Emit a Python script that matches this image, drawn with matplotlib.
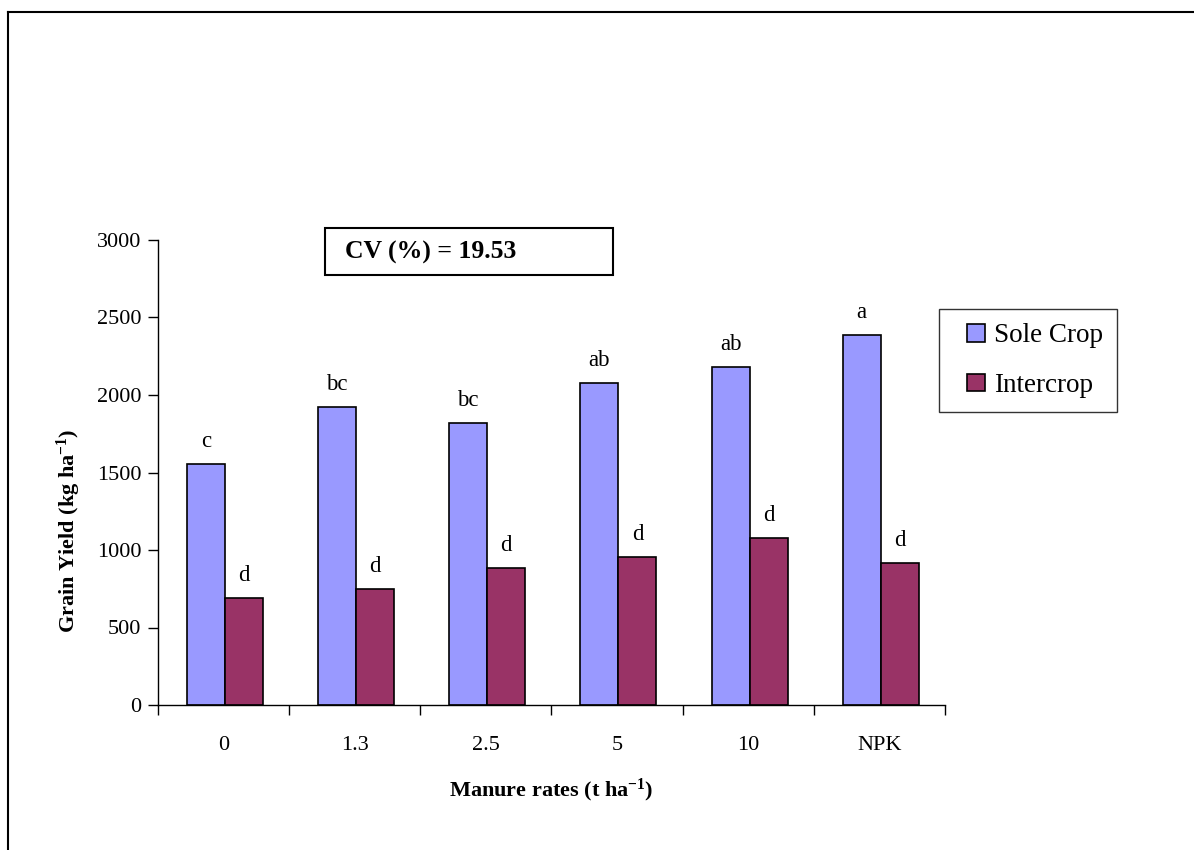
import matplotlib
matplotlib.use("Agg")
import matplotlib.pyplot as plt
from matplotlib.lines import Line2D
from matplotlib.patches import Rectangle
from matplotlib.legend_handler import HandlerPatch
import numpy as np

categories = ["0", "1.3", "2.5", "5", "10", "NPK"]
sole_crop = [1555, 1925, 1820, 2075, 2180, 2385]
intercrop = [690, 748, 882, 955, 1075, 918]
sole_letters = ["c", "bc", "bc", "ab", "ab", "a"]
inter_letters = ["d", "d", "d", "d", "d", "d"]
series_names = ["Sole Crop", "Intercrop"]
cv_text = "CV (%) = 19.53"

plt.rcParams['font.family'] = ['Liberation Serif', 'DejaVu Serif']
plt.rcParams['mathtext.fontset'] = 'custom'
plt.rcParams['mathtext.rm'] = 'Liberation Serif'
plt.rcParams['mathtext.it'] = 'Liberation Serif:italic'
plt.rcParams['mathtext.bf'] = 'Liberation Serif:bold'

W, H = 1194, 850
fig = plt.figure(figsize=(W / 100, H / 100), dpi=100)
ax = fig.add_axes([158 / W, 1 - 705 / H, (945 - 158) / W, (705 - 240) / H])

x = np.arange(len(categories))
bw = 0.29
b1 = ax.bar(x - bw / 2 + 0.01, sole_crop, bw, color="#9999FF", edgecolor="black",
            linewidth=1.2, label=series_names[0])
b2 = ax.bar(x + bw / 2 + 0.01, intercrop, bw, color="#993366", edgecolor="black",
            linewidth=1.2, label=series_names[1])

for xi, v, t in zip(x - bw / 2 + 0.01, sole_crop, sole_letters):
    ax.annotate(t, (xi, v), xytext=(0, 17), textcoords="offset pixels",
                ha="center", va="baseline", fontsize=16.5)
for xi, v, t in zip(x + bw / 2 + 0.01, intercrop, inter_letters):
    ax.annotate(t, (xi, v), xytext=(0, 17), textcoords="offset pixels",
                ha="center", va="baseline", fontsize=16.5)

ax.set_xlim(-0.5, len(categories) - 0.5)
ax.set_ylim(0, 3000)
ax.set_yticks(np.arange(0, 3001, 500))
ax.tick_params(axis="y", labelsize=16, length=7, width=1, pad=5, direction="out")

ax.set_xticks(np.arange(-0.5, len(categories), 1.0))
ax.set_xticklabels([])
ax.tick_params(axis="x", which="major", length=7, width=1, direction="out")
ax.set_xticks(x, minor=True)
ax.set_xticklabels(categories, minor=True)
ax.tick_params(axis="x", which="minor", length=0, labelsize=16, pad=22)

for s in ["top", "right"]:
    ax.spines[s].set_visible(False)
for s in ["left", "bottom"]:
    ax.spines[s].set_linewidth(1)

fig.text(551 / W, 1 - 790 / H, r"Manure rates (t ha$^{\mathbf{-1}}$)",
         ha="center", va="center", fontsize=16, fontweight="bold")
fig.text(69 / W, 1 - 531 / H, r"Grain Yield (kg ha$^{\mathbf{-1}}$)",
         ha="center", va="center", fontsize=16, fontweight="bold", rotation=90)

# CV box
fig.patches.append(Rectangle((325 / W, 1 - 275 / H), (613 - 325) / W, (275 - 228) / H,
                             transform=fig.transFigure, fill=False,
                             edgecolor="black", linewidth=1.5))
fig.text(345 / W, 1 - 252 / H, cv_text, ha="left", va="center",
         fontsize=18.5, fontweight="bold")


def small_square(legend, orig_handle, xdescent, ydescent, width, height, fontsize):
    side = height
    return Rectangle((-xdescent + width - side, -ydescent + (height - side) / 2),
                     side, side)


leg = fig.legend(handles=[b1.patches[0], b2.patches[0]], labels=series_names,
                 loc="upper left", bbox_to_anchor=(939 / W, 1 - 309 / H),
                 fontsize=19.5, frameon=True, fancybox=False, shadow=False,
                 handlelength=1.18, handleheight=0.64, handletextpad=0.33,
                 labelspacing=0.92, borderpad=0.52, borderaxespad=0,
                 handler_map={Rectangle: HandlerPatch(patch_func=small_square)})
leg.get_frame().set_edgecolor("black")
leg.get_frame().set_linewidth(1)

# figure border (top and left)
fig.add_artist(Line2D([8 / W, 8 / W], [0, 1 - 12 / H], transform=fig.transFigure,
                      color="black", linewidth=1.5))
fig.add_artist(Line2D([8 / W, 1], [1 - 12 / H, 1 - 12 / H], transform=fig.transFigure,
                      color="black", linewidth=1.5))

fig.savefig("out.png", dpi=100)
